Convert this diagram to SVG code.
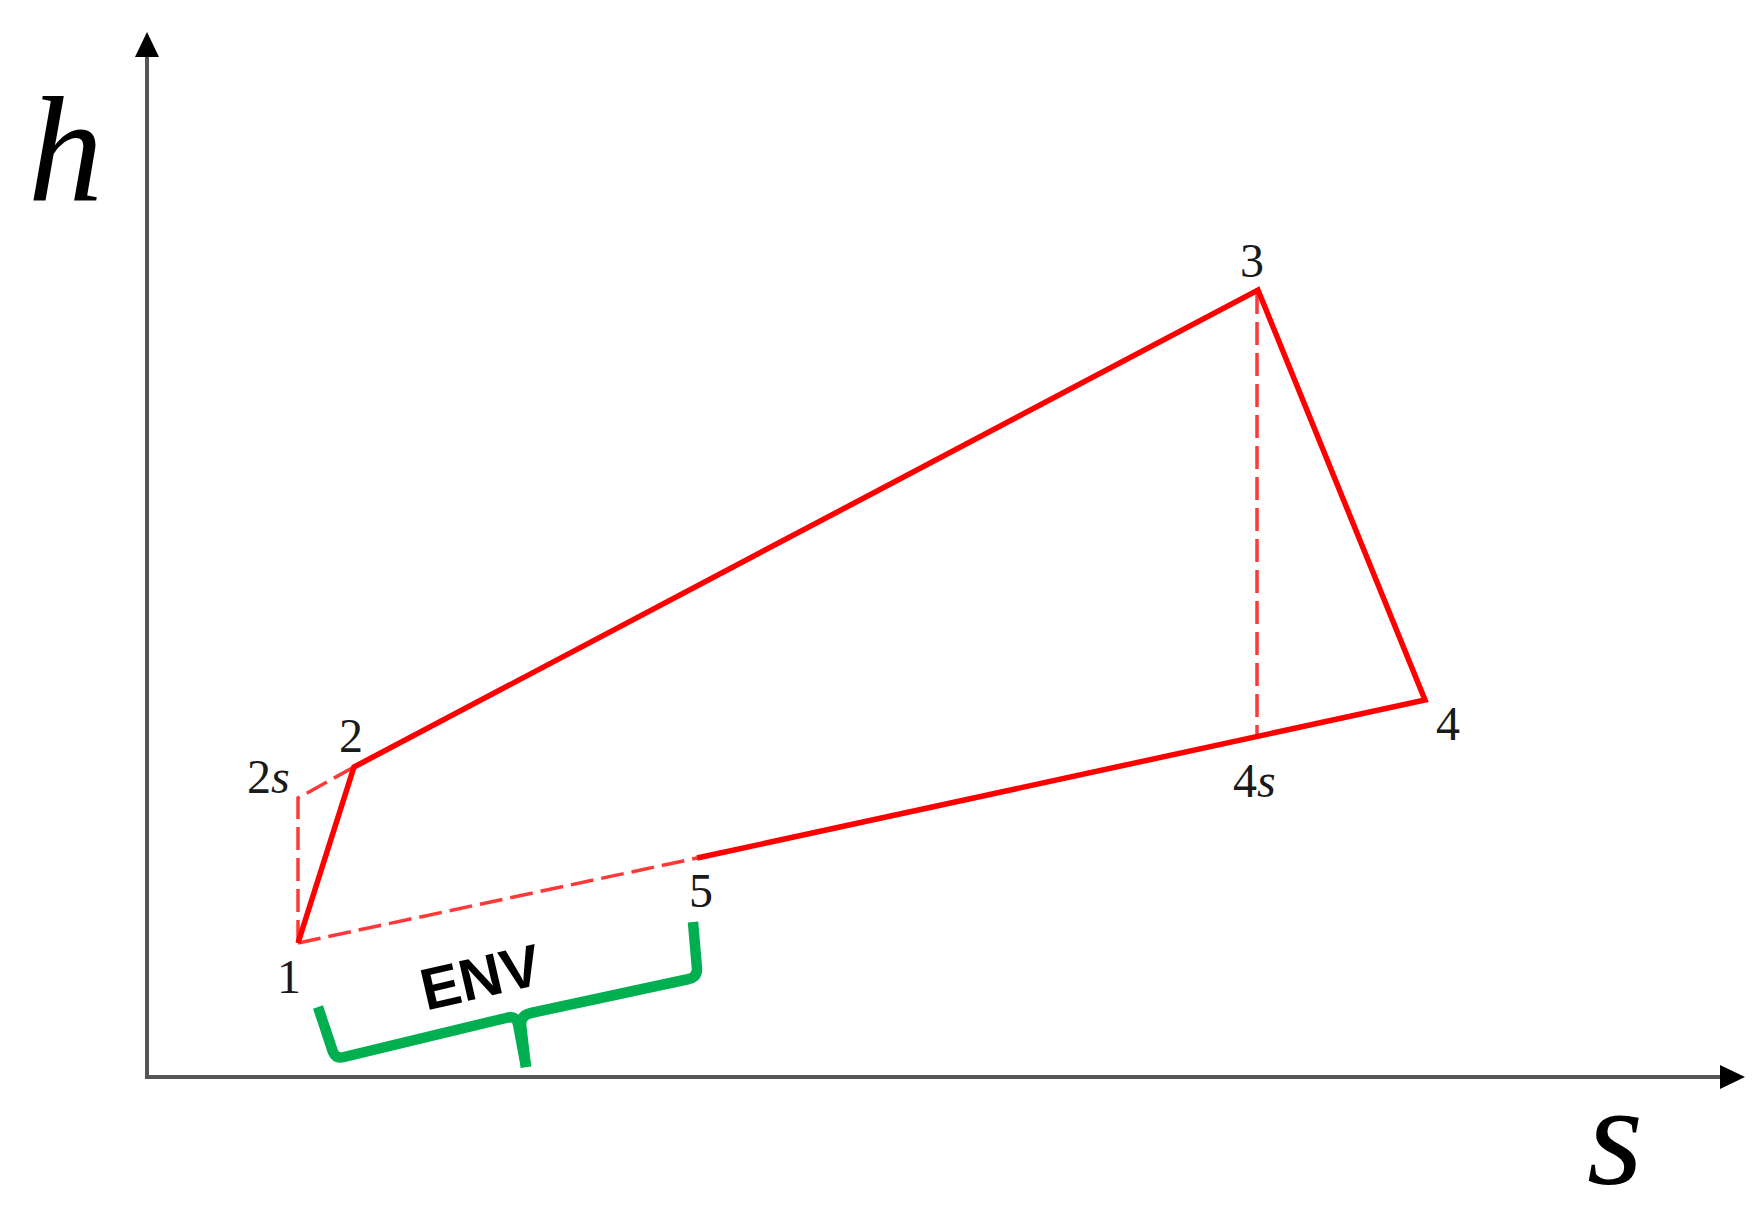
<svg xmlns="http://www.w3.org/2000/svg" width="1763" height="1216" viewBox="0 0 1763 1216">
  <style>
    .axis { stroke: #555555; stroke-width: 4; fill: none; }
    .solid { stroke: #ff0000; stroke-width: 5.5; fill: none; stroke-linejoin: miter; }
    .dash { stroke: #ff3838; stroke-width: 3.5; fill: none; stroke-dasharray: 23 8; }
    .brace { stroke: #00b050; stroke-width: 10.5; fill: none; stroke-linejoin: round; stroke-linecap: butt; }
    .lbl { font-family: "Liberation Serif", "Times New Roman", serif; font-size: 48px; fill: #1a1a1a; }
    .it { font-style: italic; }
    .big { font-family: "Liberation Serif", "Times New Roman", serif; font-style: italic; font-size: 150px; fill: #000000; }
    .env { font-family: "Liberation Sans", Arial, sans-serif; font-weight: bold; font-size: 59px; fill: #000000; }
  </style>
  <rect width="1763" height="1216" fill="#ffffff"/>

  <g id="axes">
    <line class="axis" x1="147" y1="1077" x2="147" y2="52"/>
    <polygon points="147,32 135,57 159,57" fill="#000000"/>
    <line class="axis" x1="145" y1="1077" x2="1725" y2="1077"/>
    <polygon points="1745,1077 1720,1065 1720,1089" fill="#000000"/>
    <text class="big" x="28" y="200">h</text>
    <text class="big" x="1587" y="1184" style="font-size:144px">s</text>
  </g>

  <g id="connectors">
    <polyline class="dash" points="298,943 298,798 354,767"/>
    <line class="dash" x1="298" y1="943" x2="697" y2="858"/>
    <line class="dash" x1="1257" y1="291" x2="1257" y2="737"/>
    <polyline class="solid" points="298,943 354,767 1258,290 1425,700 697,858"/>
  </g>

  <g id="node-1"><text class="lbl" x="289" y="993" text-anchor="middle">1</text></g>
  <g id="node-2s"><text class="lbl" x="247" y="793">2<tspan class="it">s</tspan></text></g>
  <g id="node-2"><text class="lbl" x="351" y="752" text-anchor="middle">2</text></g>
  <g id="node-3"><text class="lbl" x="1252" y="277" text-anchor="middle">3</text></g>
  <g id="node-4"><text class="lbl" x="1448" y="740" text-anchor="middle">4</text></g>
  <g id="node-4s"><text class="lbl" x="1233" y="797">4<tspan class="it">s</tspan></text></g>
  <g id="node-5"><text class="lbl" x="701" y="907" text-anchor="middle">5</text></g>

  <g id="env">
    <path class="brace" d="M318,1007 L333,1052 Q336,1059 344,1057 L506,1018 Q516,1015 518,1024 L526,1067"/>
    <path class="brace" d="M526,1067 L521,1024 Q521,1015 531,1013 L689,979 Q697,977 697,969 L693,922"/>
    <text class="env" x="485" y="997" text-anchor="middle" transform="rotate(-13 485 997)">ENV</text>
  </g>
</svg>
